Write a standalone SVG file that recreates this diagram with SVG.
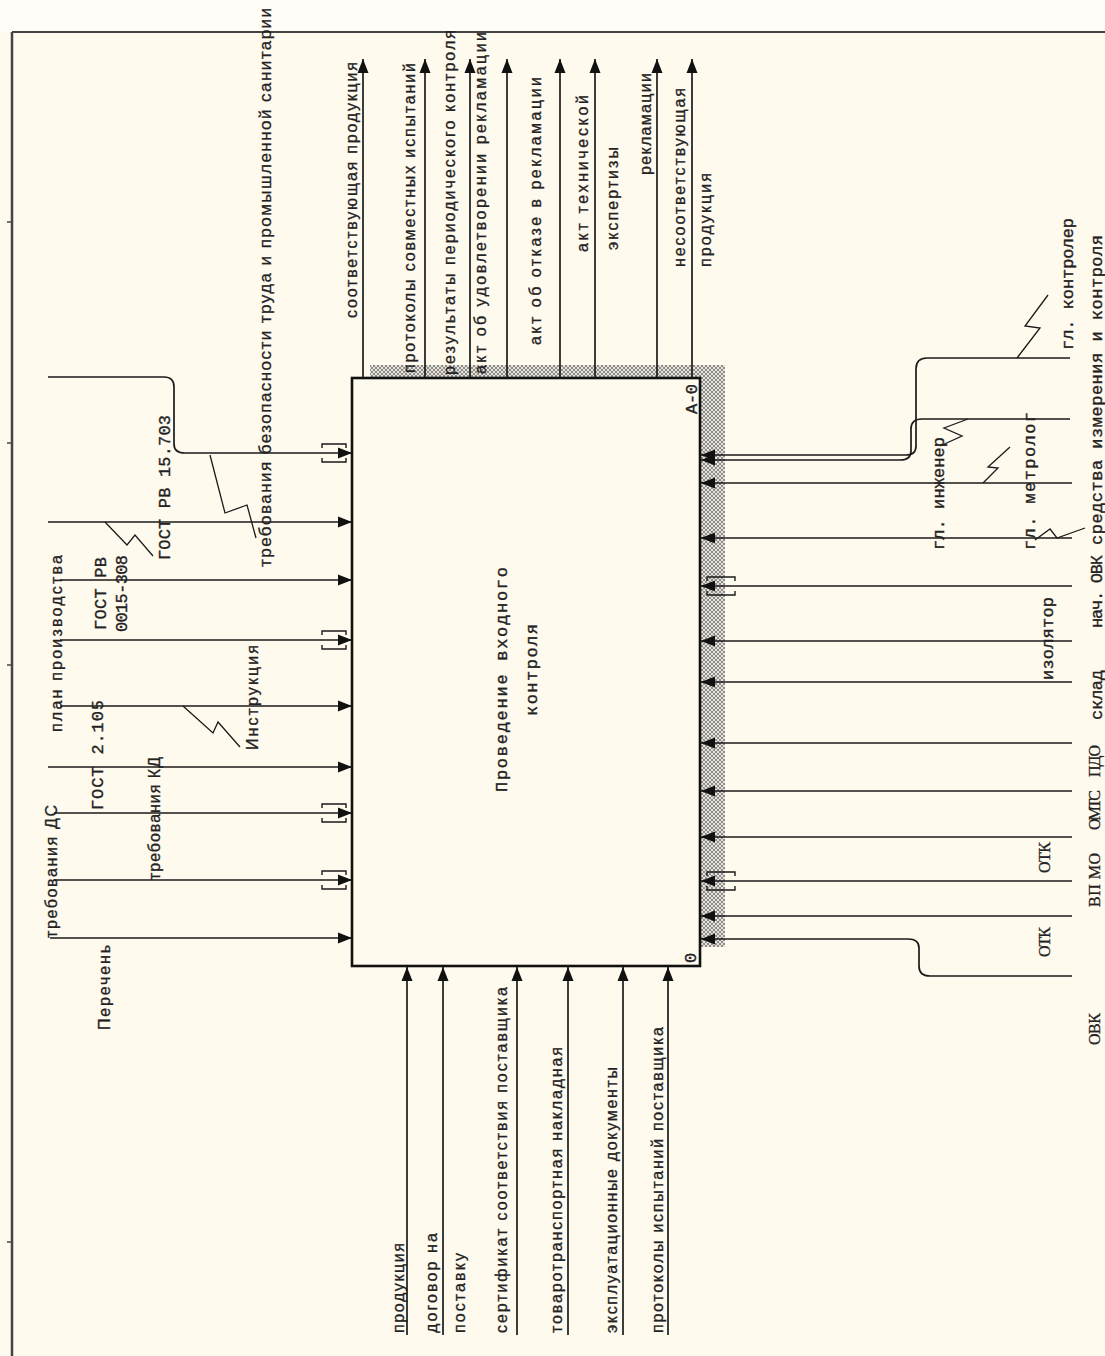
<svg xmlns="http://www.w3.org/2000/svg" width="1105" height="1356" viewBox="0 0 1105 1356">
<style>
.ln{fill:none;stroke:#1a1a1a;stroke-width:1.6}
.ar{fill:none;stroke:#1a1a1a;stroke-width:1.7;marker-end:url(#ah)}
.sq{fill:none;stroke:#1a1a1a;stroke-width:1.3}
.br{fill:none;stroke:#1a1a1a;stroke-width:1.4}
.s{font-family:"Liberation Sans",Arial,sans-serif;font-size:16px;fill:#222;stroke:#222;stroke-width:0.3}
.m{font-family:"Liberation Mono","Courier New",monospace;font-size:17px;fill:#222;stroke:#222;stroke-width:0.35}
.r{font-family:"Liberation Serif","Times New Roman",serif;font-size:16px;fill:#222;stroke:#222;stroke-width:0.3}
</style>
<defs>
<marker id="ah" markerUnits="userSpaceOnUse" markerWidth="15" markerHeight="12" refX="14" refY="6" orient="auto">
<path d="M0,0.5 L14,6 L0,11.5 z" fill="#111"/>
</marker>
<pattern id="hatch" width="4" height="4" patternUnits="userSpaceOnUse">
<rect width="4" height="4" fill="#e6e3da"/>
<path d="M0,0 L4,4 M4,0 L0,4" stroke="#777" stroke-width="0.8"/>
</pattern>
</defs>
<rect x="0" y="0" width="1105" height="1356" fill="#fffaee"/>
<rect x="0" y="0" width="1105" height="32" fill="#fffdf7"/>
<g id="frame">
<line x1="12" y1="32" x2="1105" y2="32" stroke="#444" stroke-width="2"/>
<line x1="12" y1="32" x2="12" y2="1356" stroke="#444" stroke-width="2.5"/>
<line x1="7" y1="222" x2="13" y2="222" stroke="#444" stroke-width="1.5"/>
<line x1="7" y1="443" x2="13" y2="443" stroke="#444" stroke-width="1.5"/>
<line x1="7" y1="665" x2="13" y2="665" stroke="#444" stroke-width="1.5"/>
<line x1="7" y1="1242" x2="13" y2="1242" stroke="#444" stroke-width="1.5"/>
</g>
<g id="node-A0">
<rect x="370" y="365" width="355" height="14" fill="url(#hatch)"/>
<rect x="699" y="365" width="26" height="582" fill="url(#hatch)"/>
<rect x="352" y="378" width="348" height="588" fill="#fffaee" stroke="#111" stroke-width="2.6"/>
<text class="m" transform="translate(507,792) rotate(-90)" textLength="225">Проведение входного</text>
<text class="m" transform="translate(537,716) rotate(-90)" textLength="92">контроля</text>
<text class="m" transform="translate(697,414) rotate(-90)" textLength="30">А-0</text>
<text class="m" transform="translate(696,963) rotate(-90)">0</text>
</g>
<g id="connectors">
<line class="ar" x1="363" y1="378" x2="363" y2="59"/>
<line class="ar" x1="425" y1="378" x2="425" y2="59"/>
<line class="ar" x1="470" y1="378" x2="470" y2="59"/>
<line class="ar" x1="507" y1="378" x2="507" y2="59"/>
<line class="ar" x1="560" y1="378" x2="560" y2="59"/>
<line class="ar" x1="595" y1="378" x2="595" y2="59"/>
<line class="ar" x1="657" y1="378" x2="657" y2="59"/>
<line class="ar" x1="692" y1="378" x2="692" y2="59"/>
<path class="ar" d="M48,377 H164 Q174,377 174,387 V444 Q174,453 185,453 H352"/>
<line class="ar" x1="48" y1="522" x2="352" y2="522"/>
<line class="ar" x1="60" y1="580" x2="352" y2="580"/>
<line class="ar" x1="60" y1="640" x2="352" y2="640"/>
<line class="ar" x1="60" y1="706" x2="352" y2="706"/>
<line class="ar" x1="48" y1="767" x2="352" y2="767"/>
<line class="ar" x1="54" y1="813" x2="352" y2="813"/>
<line class="ar" x1="54" y1="880" x2="352" y2="880"/>
<line class="ar" x1="50" y1="938" x2="352" y2="938"/>
<path class="br" d="M322,448 V444 H346 V448 M322,458 V462 H346 V458"/>
<path class="br" d="M322,635 V631 H346 V635 M322,645 V649 H346 V645"/>
<path class="br" d="M322,808 V804 H346 V808 M322,818 V822 H346 V818"/>
<path class="br" d="M322,875 V871 H346 V875 M322,885 V889 H346 V885"/>
<path class="ar" d="M1070,358 H927 Q916,358 916,369 V446 Q916,455 906,455 H701"/>
<path class="ar" d="M1070,419 H922 Q911,419 911,429 V451 Q911,460 900,460 H701"/>
<line class="ar" x1="1072" y1="483" x2="701" y2="483"/>
<line class="ar" x1="1072" y1="538" x2="701" y2="538"/>
<line class="ar" x1="1072" y1="586" x2="701" y2="586"/>
<line class="ar" x1="1072" y1="641" x2="701" y2="641"/>
<line class="ar" x1="1072" y1="682" x2="701" y2="682"/>
<line class="ar" x1="1072" y1="743" x2="701" y2="743"/>
<line class="ar" x1="1072" y1="791" x2="701" y2="791"/>
<line class="ar" x1="1072" y1="837" x2="701" y2="837"/>
<line class="ar" x1="1072" y1="881" x2="701" y2="881"/>
<line class="ar" x1="1072" y1="916" x2="701" y2="916"/>
<path class="ar" d="M1072,976 H930 Q919,976 919,966 V948 Q919,939 908,939 H701"/>
<path class="br" d="M707,581 V577 H735 V581 M707,591 V595 H735 V591"/>
<path class="br" d="M707,876 V872 H735 V876 M707,886 V890 H735 V886"/>
<line class="ar" x1="407" y1="1335" x2="407" y2="967"/>
<line class="ar" x1="443" y1="1335" x2="443" y2="967"/>
<line class="ar" x1="517" y1="1335" x2="517" y2="967"/>
<line class="ar" x1="568" y1="1335" x2="568" y2="967"/>
<line class="ar" x1="623" y1="1335" x2="623" y2="967"/>
<line class="ar" x1="668" y1="1335" x2="668" y2="967"/>
<polyline class="sq" points="210,455 225,513 247,505 256,538"/>
<polyline class="sq" points="105,522 127,545 135,535 153,556"/>
<polyline class="sq" points="183,706 213,733 218,722 240,747"/>
<polyline class="sq" points="1017,358 1040,328 1025,326 1048,295"/>
<polyline class="sq" points="968,419 944,428 962,436 940,446"/>
<polyline class="sq" points="983,483 998,468 988,467 1010,447"/>
<polyline class="sq" points="1035,540 1050,529 1057,538 1085,528"/>
</g>
<g id="labels">
<text class="s" transform="translate(357,318) rotate(-90)" textLength="256">соответствующая продукция</text>
<text class="s" transform="translate(415,373) rotate(-90)" textLength="310">протоколы совместных испытаний</text>
<text class="s" transform="translate(455,375) rotate(-90)" textLength="345">результаты периодического контроля</text>
<text class="s" transform="translate(486,374) rotate(-90)" textLength="342">акт об удовлетворении рекламации</text>
<text class="s" transform="translate(541,345) rotate(-90)" textLength="268">акт об отказе в рекламации</text>
<text class="s" transform="translate(588,252) rotate(-90)" textLength="157">акт технической</text>
<text class="s" transform="translate(618,250) rotate(-90)" textLength="103">экспертизы</text>
<text class="s" transform="translate(651,175) rotate(-90)" textLength="102">рекламации</text>
<text class="s" transform="translate(685,267) rotate(-90)" textLength="179">несоответствующая</text>
<text class="s" transform="translate(711,267) rotate(-90)" textLength="94">продукция</text>
<text class="s" style="font-size:17px" transform="translate(271,567) rotate(-90)" textLength="559">требования безопасности труда и промышленной санитарии</text>
<text class="m" transform="translate(170,560) rotate(-90)" textLength="145">ГОСТ РВ 15.703</text>
<text class="m" transform="translate(106,630) rotate(-90)" textLength="73">ГОСТ РВ</text>
<text class="m" transform="translate(127,632) rotate(-90)" textLength="77">0015-308</text>
<text class="s" transform="translate(62,732) rotate(-90)" textLength="177">план производства</text>
<text class="s" transform="translate(258,750) rotate(-90)" textLength="105">Инструкция</text>
<text class="m" transform="translate(103,810) rotate(-90)" textLength="110">ГОСТ 2.105</text>
<text class="s" transform="translate(160,880) rotate(-90)" textLength="123">требования КД</text>
<text class="s" transform="translate(57,938) rotate(-90)" textLength="133">требования ДС</text>
<text class="s" transform="translate(110,1030) rotate(-90)" textLength="85">Перечень</text>
<text class="m" transform="translate(1073,350) rotate(-90)" textLength="132">гл. контролер</text>
<text class="m" transform="translate(1102,545) rotate(-90)" textLength="310">средства измерения и контроля</text>
<text class="m" transform="translate(944,550) rotate(-90)" textLength="113">гл. инженер</text>
<text class="m" transform="translate(1035,550) rotate(-90)" textLength="138">гл. метролог</text>
<text class="m" transform="translate(1102,628) rotate(-90)" textLength="73">нач. ОВК</text>
<text class="m" transform="translate(1053,680) rotate(-90)" textLength="83">изолятор</text>
<text class="m" transform="translate(1102,720) rotate(-90)" textLength="50">склад</text>
<text class="r" transform="translate(1100,777) rotate(-90)" textLength="32">ПДО</text>
<text class="r" transform="translate(1100,830) rotate(-90)" textLength="40">ОМТС</text>
<text class="r" transform="translate(1050,873) rotate(-90)" textLength="31">ОТК</text>
<text class="r" transform="translate(1100,907) rotate(-90)" textLength="54">ВП МО</text>
<text class="r" transform="translate(1050,957) rotate(-90)" textLength="30">ОТК</text>
<text class="r" transform="translate(1100,1045) rotate(-90)" textLength="32">ОВК</text>
<text class="s" transform="translate(404,1333) rotate(-90)" textLength="90">продукция</text>
<text class="s" transform="translate(437,1333) rotate(-90)" textLength="100">договор на</text>
<text class="s" transform="translate(465,1333) rotate(-90)" textLength="80">поставку</text>
<text class="s" transform="translate(507,1333) rotate(-90)" textLength="346">сертификат соответствия поставщика</text>
<text class="s" transform="translate(562,1333) rotate(-90)" textLength="286">товаротранспортная накладная</text>
<text class="s" transform="translate(617,1333) rotate(-90)" textLength="266">эксплуатационные документы</text>
<text class="s" transform="translate(663,1333) rotate(-90)" textLength="306">протоколы испытаний поставщика</text>
</g>
</svg>
